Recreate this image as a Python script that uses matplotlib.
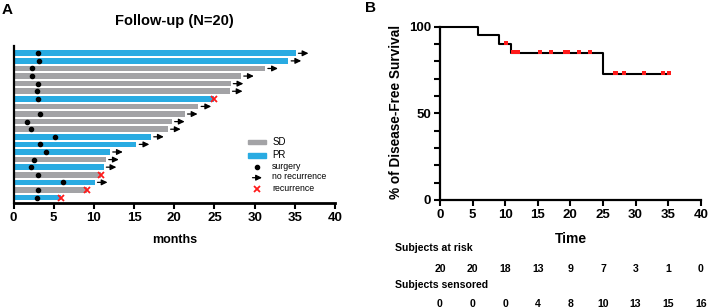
import matplotlib
matplotlib.use("Agg")
import matplotlib.pyplot as plt
from matplotlib.patches import Rectangle
import numpy as np

plt.rcParams['font.family'] = ['Liberation Sans', 'DejaVu Sans']
plt.rcParams['font.weight'] = 'bold'

W, H = 708, 308

# ---- data ----
# one row per patient, top to bottom
months = [35.1, 34.2, 31.3, 28.3, 27.0, 26.9, 25.0, 23.0, 21.3, 19.7,
          19.2, 17.1, 15.3, 12.0, 11.5, 11.2, 10.9, 10.1, 9.1, 5.9]
response = ['PR', 'PR', 'SD', 'SD', 'SD', 'SD', 'PR', 'SD', 'SD', 'SD',
            'SD', 'PR', 'PR', 'PR', 'SD', 'PR', 'SD', 'PR', 'SD', 'PR']
surgery = [3.1, 3.2, 2.3, 2.3, 3.0, 2.9, 3.0, np.nan, 3.3, 1.7,
           2.2, 5.2, 3.3, 4.0, 2.5, 2.2, 3.0, 6.1, 3.1, 2.9]
recurrence = [0, 0, 0, 0, 0, 0, 1, 0, 0, 0,
              0, 0, 0, 0, 0, 0, 1, 0, 1, 1]

table_times = [0, 5, 10, 15, 20, 25, 30, 35, 40]
at_risk = [20, 20, 18, 13, 9, 7, 3, 1, 0]
censored = [0, 0, 0, 4, 8, 10, 13, 15, 16]

colors = {'SD': '#a3a3a6', 'PR': '#29abe2'}
RED = '#ff1a1a'


def px(x, y):
    """pixel position in the 708x308 picture -> figure fraction"""
    return x / W, 1 - y / H


def km_curve(t, e):
    t = np.asarray(t, float)
    e = np.asarray(e, int)
    xs, ys = [0.0], [1.0]
    s = 1.0
    for et in np.unique(t[e == 1]):
        n = np.sum(t >= et)
        d = np.sum((t == et) & (e == 1))
        s *= 1 - d / n
        xs.append(et)
        ys.append(s)
    xs.append(t.max())
    ys.append(s)
    return np.array(xs), np.array(ys)


def km_at(xs, ys, t):
    idx = np.searchsorted(xs, t, side='right') - 1
    return ys[idx]


fig = plt.figure(figsize=(W / 100, H / 100), dpi=100)

# ---------------- panel A ----------------
l, b = px(13.5, 203)
axA = fig.add_axes([l, b, (335 - 13.5) / W, (203 - 45.7) / H])
n = len(months)
ypos = np.arange(n)[::-1]
axA.barh(ypos, months, height=0.74, color=[colors[r] for r in response],
         edgecolor='none')
axA.plot(surgery, ypos, 'o', color='black', ms=3, zorder=3)
for m, y, rec in zip(months, ypos, recurrence):
    if rec:
        axA.plot(m, y, 'x', color=RED, ms=4, mew=1.3, zorder=4, clip_on=False)
    else:
        axA.annotate('', xy=(m + 1.6, y), xytext=(m + 0.35, y),
                     arrowprops=dict(arrowstyle='-|>,head_length=0.35,head_width=0.17',
                                     color='black', lw=0.9, shrinkA=0, shrinkB=0),
                     annotation_clip=False)
axA.set_xlim(0, 40)
axA.set_ylim(-0.72, 20)
axA.set_xticks(range(0, 41, 5))
axA.set_yticks([])
for sp in ['top', 'right']:
    axA.spines[sp].set_visible(False)
axA.spines['bottom'].set_linewidth(2.0)
axA.spines['left'].set_linewidth(1.6)
axA.tick_params(axis='x', length=4.5, width=1.5, labelsize=9.5, pad=2)
for lab in axA.get_xticklabels():
    lab.set_fontweight('bold')

fig.text(*px(174.5, 21), 'Follow-up (N=20)', ha='center', va='center',
         fontsize=10.5, fontweight='bold')
fig.text(*px(174.5, 240), 'months', ha='center', va='center',
         fontsize=9, fontweight='bold')
fig.text(*px(2, 10), 'A', ha='left', va='center', fontsize=11, fontweight='bold')

# legend drawn by hand
for lab, yy in [('SD', 142), ('PR', 155.5)]:
    x0, y0 = px(248.3, yy + 2.3)
    fig.patches.append(Rectangle((x0, y0), 17.7 / W, 4.6 / H, color=colors[lab],
                                 transform=fig.transFigure, figure=fig))
    fig.text(*px(272.3, yy), lab, ha='left', va='center', fontsize=7,
             fontweight='normal')
xm, ym = px(257.3, 167.3)
fig.add_artist(plt.Line2D([xm], [ym], marker='o', color='black', ms=3,
                          transform=fig.transFigure))
fig.text(*px(272.3, 166.3), 'surgery', ha='left', va='center', fontsize=6.3,
         fontweight='normal')
axA.annotate('', xy=px(262, 177.7), xytext=px(252.5, 177.7),
             xycoords='figure fraction', textcoords='figure fraction',
             arrowprops=dict(arrowstyle='-|>,head_length=0.35,head_width=0.17',
                             color='black', lw=0.9, shrinkA=0, shrinkB=0))
fig.text(*px(272.3, 176.7), 'no recurrence', ha='left', va='center', fontsize=6.3,
         fontweight='normal')
xm, ym = px(257.3, 188.8)
fig.add_artist(plt.Line2D([xm], [ym], marker='x', color=RED, ms=4, mew=1.3,
                          transform=fig.transFigure))
fig.text(*px(272.3, 188.3), 'recurrence', ha='left', va='center', fontsize=6.3,
         fontweight='normal')

# ---------------- panel B ----------------
l, b = px(440, 200)
axB = fig.add_axes([l, b, (700.7 - 440) / W, (200 - 26.7) / H])
kx, ky = km_curve(months, recurrence)
axB.step(kx, ky * 100, where='post', color='black', lw=1.5, clip_on=False, zorder=3)
ct = np.array([m for m, r in zip(months, recurrence) if not r])
axB.plot(ct, km_at(kx, ky, ct) * 100 + 0.8, 's', color=RED, ms=2.6, mew=0,
         clip_on=False, zorder=4)
axB.set_xlim(0, 40)
axB.set_ylim(0, 100)
axB.set_xticks(range(0, 41, 5))
axB.set_yticks([0, 50, 100])
axB.set_yticks(range(10, 100, 10), minor=True)
for sp in ['top', 'right']:
    axB.spines[sp].set_visible(False)
for sp in ['left', 'bottom']:
    axB.spines[sp].set_linewidth(1.6)
axB.tick_params(axis='both', which='both', length=4.5, width=1.5, labelsize=9.5, pad=2)
for lab in axB.get_xticklabels() + axB.get_yticklabels():
    lab.set_fontweight('bold')

fig.text(*px(396, 112), '% of Disease-Free Survival', ha='center', va='center',
         rotation=90, fontsize=9.8, fontweight='bold')
fig.text(*px(570.7, 239), 'Time', ha='center', va='center',
         fontsize=10, fontweight='bold')
fig.text(*px(365, 8), 'B', ha='left', va='center', fontsize=11, fontweight='bold')

# number-at-risk table
fig.text(*px(395, 248), 'Subjects at risk', ha='left', va='center',
         fontsize=7.6, fontweight='bold')
fig.text(*px(395, 285.5), 'Subjects sensored', ha='left', va='center',
         fontsize=7.6, fontweight='bold')
for t, r, c in zip(table_times, at_risk, censored):
    xf = axB.transData.transform((t, 0))[0] / fig.bbox.width
    fig.text(xf, 1 - 268.5 / H, str(r), ha='center', va='center',
             fontsize=7.6, fontweight='bold')
    fig.text(xf, 1 - 304 / H, str(c), ha='center', va='center',
             fontsize=7.6, fontweight='bold')

fig.savefig('out.png', dpi=100)
